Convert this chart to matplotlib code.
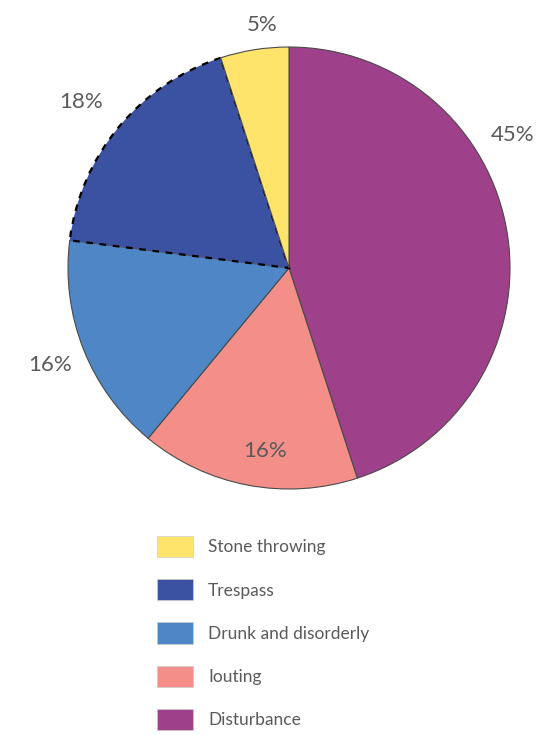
import matplotlib
matplotlib.use("Agg")
import matplotlib.pyplot as plt
from matplotlib.patches import Patch

categories = ["Stone throwing", "Trespass", "Drunk and disorderly", "Iouting", "Disturbance"]
values = [5, 18, 16, 16, 45]
labels = ["5%", "18%", "16%", "16%", "45%"]
colors = ["#FFE46C", "#3B52A3", "#4E86C6", "#F38F88", "#9E408A"]

# label positions in pie-radius units (x, y)
label_pos = [(-0.12, 1.10), (-0.94, 0.75), (-1.08, -0.44), (-0.11, -0.83), (1.01, 0.60)]

W, H = 547, 735
cx, cy, R = 289, 268, 221

fig = plt.figure(figsize=(W / 100, H / 100), dpi=100)
ax = fig.add_axes([0, 0, 1, 1])
ax.axis("off")

# order clockwise from top: Disturbance, Iouting, Drunk, Trespass, Stone
order = [4, 3, 2, 1, 0]
wedges, _ = ax.pie([values[i] for i in order], colors=[colors[i] for i in order],
                   startangle=90, counterclock=False, radius=1, center=(0, 0),
                   wedgeprops=dict(edgecolor="#4a4a4a", linewidth=0.8))
ax.set_xlim(-cx / R, (W - cx) / R)
ax.set_ylim((cy - H) / R, cy / R)
ax.set_aspect("auto")

# trespass wedge dashed black outline
tw = wedges[order.index(1)]
tw.set_edgecolor("black")
tw.set_linestyle((0, (3, 3)))
tw.set_linewidth(1.6)

fam = ["Lato", "DejaVu Sans"]
for lab, (x, y) in zip(labels, label_pos):
    ax.text(x, y, lab, ha="center", va="center", fontsize=16, color="#5a5a5a",
            family=fam, fontweight="normal")

handles = [Patch(facecolor=c, edgecolor="#cccccc", linewidth=0.5) for c in colors]
leg = fig.legend(handles, categories, loc="upper left",
                 bbox_to_anchor=(157 / W, 1 - 536 / H), frameon=False,
                 handlelength=2.1, handleheight=1.5,
                 labelspacing=1.27, handletextpad=0.85, borderpad=0,
                 borderaxespad=0, prop=dict(family=fam, weight="normal", size=12.5))
for t in leg.get_texts():
    t.set_color("#5a5a5a")

fig.savefig("out.png", dpi=100)
